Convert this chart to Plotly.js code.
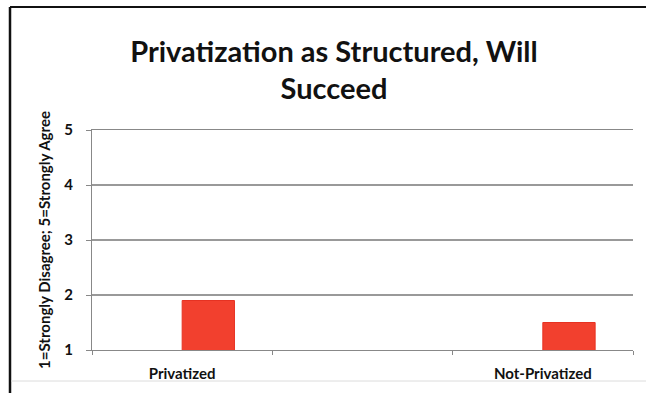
<!DOCTYPE html>
<html>
<head>
<meta charset="utf-8">
<script src="https://cdn.plot.ly/plotly-3.0.1.min.js"></script>
<style>html,body{margin:0;padding:0;background:#fff;}#chart{width:646px;height:393px;}</style>
</head>
<body>
<div id="chart"></div>
<script>
const categories = ["Privatized", " ", "Not-Privatized"];
const values = [1.9, null, 1.5];
const yTicks = [1, 2, 3, 4, 5];

const trace = {
  type: "bar",
  x: categories,
  y: values,
  width: 0.29,
  offset: 0,
  marker: {color: "#f2402e", line: {color: "#e63222", width: 1}},
  hoverinfo: "skip"
};

// frame positions in pixels converted to paper coordinates
const L = 92, R = 13, T = 130, B = 43, W = 646, H = 393;
const pw = W - L - R, ph = H - T - B;
const px = v => (v - L) / pw;
const py = v => (H - B - v) / ph;

const layout = {
  width: W, height: H,
  margin: {l: L, r: R, t: T, b: B},
  paper_bgcolor: "#ffffff",
  plot_bgcolor: "#ffffff",
  showlegend: false,
  title: {
    text: "<b>Privatization as Structured, Will<br>Succeed</b>",
    font: {family: "Lato, 'Noto Sans', sans-serif", size: 29, color: "#111"},
    x: px(334), xanchor: "center", xref: "paper",
    y: 0.843, yanchor: "top"
  },
  xaxis: {
    type: "category",
    tickson: "boundaries",
    ticks: "outside", ticklen: 4, tickcolor: "#888",
    showline: true, linecolor: "#888", linewidth: 1,
    mirror: true,
    showgrid: false,
    ticklabelstandoff: 10,
    tickfont: {family: "Lato, sans-serif", size: 15, color: "#111", weight: "bold"},
    range: [-0.5, 2.5]
  },
  yaxis: {
    range: [1, 5],
    tickvals: yTicks,
    ticktext: yTicks.map(String),
    ticks: "outside", ticklen: 5, tickcolor: "#888",
    showline: true, linecolor: "#888", linewidth: 1,
    showgrid: true, gridcolor: "#999", gridwidth: 1.2,
    zeroline: false,
    ticklabelstandoff: 10,
    tickfont: {family: "Lato, sans-serif", size: 15, color: "#111", weight: "bold"},
    title: {
      text: "<b>1=Strongly Disagree; 5=Strongly Agree</b>",
      font: {family: "Lato, sans-serif", size: 15, color: "#111"},
      standoff: 10
    }
  },
  shapes: [
    {type: "line", xref: "paper", yref: "paper", x0: px(10), x1: px(10), y0: py(395), y1: py(7), line: {color: "#111", width: 2.5}},
    {type: "line", xref: "paper", yref: "paper", x0: px(10), x1: px(650), y0: py(7), y1: py(7), line: {color: "#111", width: 2}},
    {type: "line", xref: "paper", yref: "paper", x0: px(11), x1: px(650), y0: py(381), y1: py(381), line: {color: "#dcdcdc", width: 1}}
  ]
};

Plotly.newPlot("chart", [trace], layout, {displayModeBar: false, staticPlot: true});
</script>
</body>
</html>
